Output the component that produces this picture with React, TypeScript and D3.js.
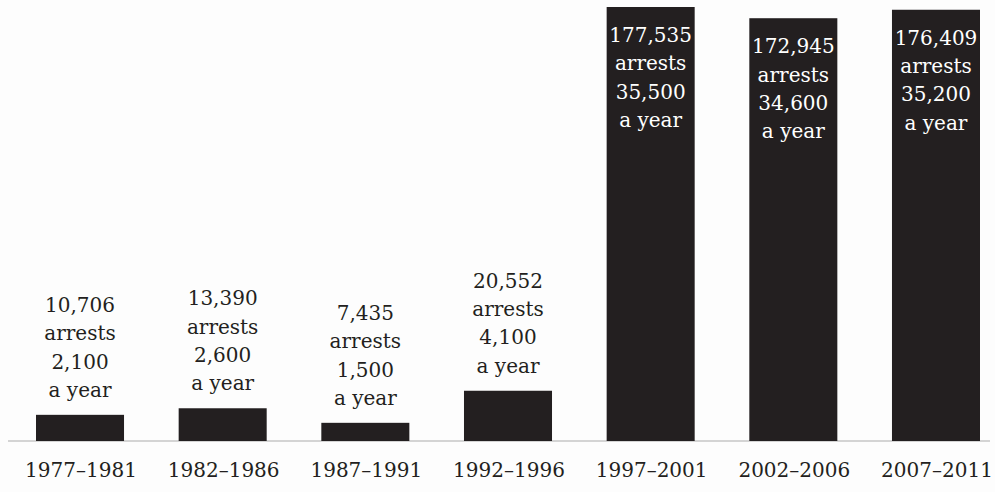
import React from "react";
import * as d3 from "d3";

const periods = ["1977–1981", "1982–1986", "1987–1991", "1992–1996", "1997–2001", "2002–2006", "2007–2011"];
const totalArrests = [10706, 13390, 7435, 20552, 177535, 172945, 176409];
const perYear = [2100, 2600, 1500, 4100, 35500, 34600, 35200];

const W = 995;
const H = 492;
const baseY = 441;
const topY = 7;
const FONT = "'DejaVu Serif', serif";
const DARK = "#231f20";

export default function App() {
  const x = d3.scaleBand<string>().domain(periods).range([36, 980]).paddingInner(0.383).paddingOuter(0);
  const y = d3.scaleLinear().domain([0, d3.max(totalArrests) as number]).range([baseY, topY]);
  const fmt = d3.format(",");
  const lineH = 28.3;

  return (
    <svg width={W} height={H} style={{ position: "absolute", left: 0, top: 0, background: "#fff" }} fontFamily={FONT}>
      <rect x={0} y={0} width={W} height={H} fill="#fdfdfd" />
      <line x1={8} x2={990} y1={baseY} y2={baseY} stroke="#d4d4d4" strokeWidth={2} />
      {periods.map((p, i) => {
        const v = totalArrests[i];
        const bx = x(p) as number;
        const bw = x.bandwidth();
        const by = y(v);
        const cx = bx + bw / 2;
        const inside = baseY - by > 200;
        const lines = [fmt(v), "arrests", fmt(perYear[i]), "a year"];
        const firstBase = inside ? by + 35 : by - 18 - lineH * 3;
        return (
          <g key={p}>
            <rect x={bx} y={by} width={bw} height={baseY - by} fill={DARK} />
            {lines.map((t, j) => (
              <text
                key={j}
                x={cx}
                y={firstBase + j * lineH}
                textAnchor="middle"
                fontSize={20}
                fill={inside ? "#ffffff" : DARK}
              >
                {t}
              </text>
            ))}
            <text x={cx + 1} y={477} textAnchor="middle" fontSize={20} fill={DARK}>
              {p}
            </text>
          </g>
        );
      })}
    </svg>
  );
}
